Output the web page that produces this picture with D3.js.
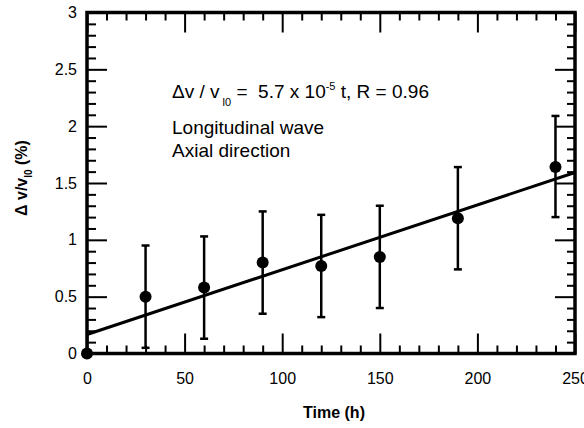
<!DOCTYPE html>
<html>
<head>
<meta charset="utf-8">
<script src="https://cdn.jsdelivr.net/npm/d3@7"></script>
<style>
  body { margin: 0; background: #fff; }
  text { font-family: "Liberation Sans", Arial, sans-serif; }
</style>
</head>
<body>
<div id="container"></div>
<script>
// data
let times = [0, 30, 60, 90, 120, 150, 190, 240];
let values = [0, 0.50, 0.58, 0.80, 0.77, 0.85, 1.19, 1.64];
let errLow = [null, 0.05, 0.13, 0.35, 0.32, 0.40, 0.74, 1.20];
let errHigh = [null, 0.95, 1.03, 1.25, 1.22, 1.30, 1.64, 2.09];
let fitIntercept = 0.167;
let fitSlope = 0.0057;   // % per hour
let xTicks = [0, 50, 100, 150, 200, 250];
let yTicks = [0, 0.5, 1, 1.5, 2, 2.5, 3];
let yTickLabels = ["0", "0.5", "1", "1.5", "2", "2.5", "3"];

let w = 584;
let h = 428;
let viz = d3.select("#container").append("svg")
    .attr("width", w)
    .attr("height", h)
    .style("background-color", "white");

let padL = 87, padR = 575, padT = 12.5, padB = 353.5;

let xScale = d3.scaleLinear().domain([0, 250]).range([padL, padR]);
let yScale = d3.scaleLinear().domain([0, 3]).range([padB, padT]);

let xMinor = d3.range(0, 251, 10).filter(d => d % 50 != 0);
let yMinor = d3.range(0, 31, 1).map(d => d / 10).filter(d => Math.round(d * 10) % 5 != 0);

function styleAxis(g) {
    g.select(".domain").remove();
    g.selectAll("line").attr("stroke", "black").attr("stroke-width", 2);
    g.selectAll("text").attr("font-size", 16).attr("fill", "black")
        .style("font-family", "'Liberation Sans', Arial, sans-serif");
}

// bottom axis
viz.append("g").attr("transform", "translate(0," + padB + ")")
    .call(d3.axisBottom(xScale).tickValues(xMinor).tickSize(-8).tickFormat(""))
    .call(styleAxis);
viz.append("g").attr("transform", "translate(0," + padB + ")")
    .call(d3.axisBottom(xScale).tickValues(xTicks).tickSize(-20).tickPadding(19).tickFormat(d3.format("d")))
    .call(styleAxis);
// top axis (ticks only)
viz.append("g").attr("transform", "translate(0," + padT + ")")
    .call(d3.axisTop(xScale).tickValues(xMinor).tickSize(-8).tickFormat(""))
    .call(styleAxis);
viz.append("g").attr("transform", "translate(0," + padT + ")")
    .call(d3.axisTop(xScale).tickValues(xTicks).tickSize(-20).tickFormat(""))
    .call(styleAxis);
// left axis
viz.append("g").attr("transform", "translate(" + padL + ",0)")
    .call(d3.axisLeft(yScale).tickValues(yMinor).tickSize(-9).tickFormat(""))
    .call(styleAxis);
viz.append("g").attr("transform", "translate(" + padL + ",0)")
    .call(d3.axisLeft(yScale).tickValues(yTicks).tickSize(-20).tickPadding(10)
        .tickFormat((d, i) => yTickLabels[i]))
    .call(styleAxis);
// right axis (ticks only)
viz.append("g").attr("transform", "translate(" + padR + ",0)")
    .call(d3.axisRight(yScale).tickValues(yMinor).tickSize(-8).tickFormat(""))
    .call(styleAxis);
viz.append("g").attr("transform", "translate(" + padR + ",0)")
    .call(d3.axisRight(yScale).tickValues(yTicks).tickSize(-20).tickFormat(""))
    .call(styleAxis);

// frame
viz.append("rect")
    .attr("x", padL).attr("y", padT)
    .attr("width", padR - padL).attr("height", padB - padT)
    .attr("fill", "none").attr("stroke", "black").attr("stroke-width", 3.5);

// fit line
viz.append("line")
    .attr("x1", xScale(0)).attr("y1", yScale(fitIntercept))
    .attr("x2", xScale(250)).attr("y2", yScale(fitIntercept + fitSlope * 250))
    .attr("stroke", "black").attr("stroke-width", 3);

let points = times.map((t, i) => ({t: t, v: values[i], lo: errLow[i], hi: errHigh[i]}));
let withErr = points.filter(d => d.lo != null);

// error bars
viz.selectAll(".err").data(withErr).enter().append("line")
    .attr("x1", d => xScale(d.t)).attr("x2", d => xScale(d.t))
    .attr("y1", d => yScale(d.lo)).attr("y2", d => yScale(d.hi))
    .attr("stroke", "black").attr("stroke-width", 2.5);
viz.selectAll(".capTop").data(withErr).enter().append("line")
    .attr("x1", d => xScale(d.t) - 4).attr("x2", d => xScale(d.t) + 4)
    .attr("y1", d => yScale(d.hi)).attr("y2", d => yScale(d.hi))
    .attr("stroke", "black").attr("stroke-width", 2.5);
viz.selectAll(".capBot").data(withErr).enter().append("line")
    .attr("x1", d => xScale(d.t) - 4).attr("x2", d => xScale(d.t) + 4)
    .attr("y1", d => yScale(d.lo)).attr("y2", d => yScale(d.lo))
    .attr("stroke", "black").attr("stroke-width", 2.5);

// markers
viz.selectAll(".pt").data(points).enter().append("circle")
    .attr("cx", d => xScale(d.t)).attr("cy", d => yScale(d.v))
    .attr("r", 6).attr("fill", "black");

// annotation
let ann = viz.append("text").attr("x", 172).attr("y", 98).attr("font-size", 19)
    .style("white-space", "pre");
ann.append("tspan").text("\u0394v / v");
ann.append("tspan").attr("font-size", 11).attr("dy", 8).text(" l0");
ann.append("tspan").attr("dy", -8).text(" =  5.7 x 10");
ann.append("tspan").attr("font-size", 11).attr("dy", -8).text("-5");
ann.append("tspan").attr("dy", 8).text(" t, R = 0.96");

viz.append("text").attr("x", 172).attr("y", 134).attr("font-size", 19).text("Longitudinal wave");
viz.append("text").attr("x", 172).attr("y", 157).attr("font-size", 19).text("Axial direction");

// axis titles
viz.append("text")
    .attr("x", (padL + padR) / 2 + 3).attr("y", 418)
    .attr("text-anchor", "middle").attr("font-size", 16).attr("font-weight", "bold")
    .text("Time (h)");

let yt = viz.append("text")
    .attr("transform", "translate(27,178) rotate(-90)")
    .attr("text-anchor", "middle").attr("font-size", 16).attr("font-weight", "bold");
yt.append("tspan").text("\u0394 v/v");
yt.append("tspan").attr("font-size", 10).attr("dy", 5).text("l0");
yt.append("tspan").attr("dy", -5).text(" (%)");
</script>
</body>
</html>
